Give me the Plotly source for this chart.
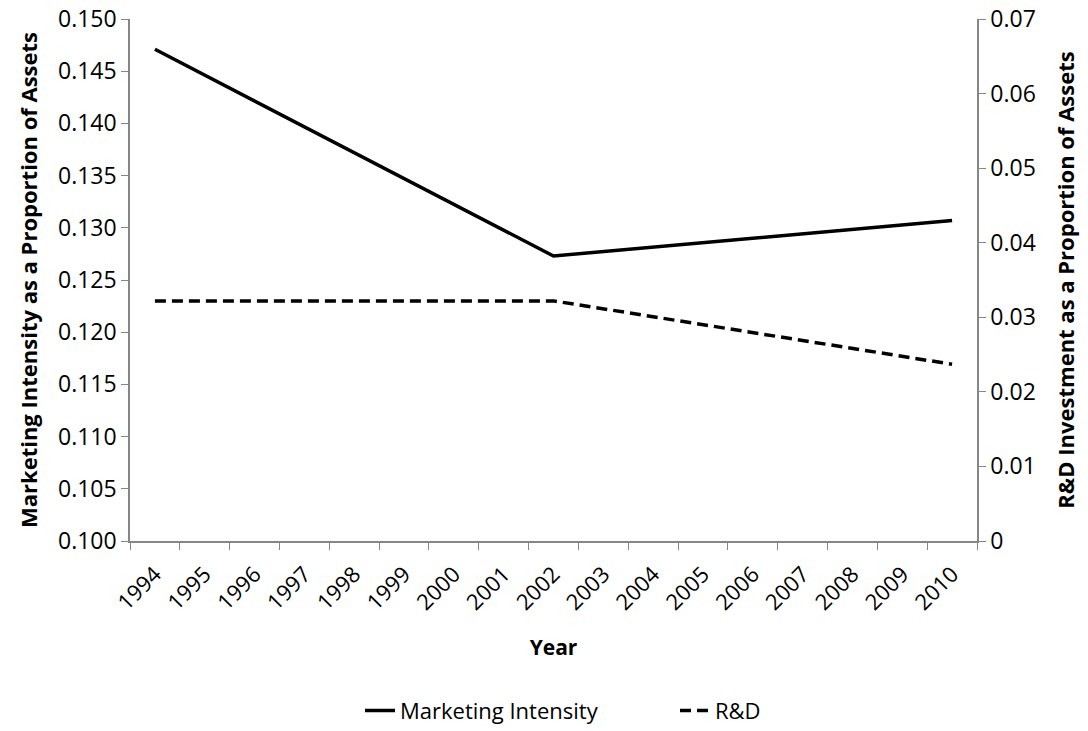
import plotly.graph_objects as go

years = [str(y) for y in range(1994, 2011)]
point_years = ["1994", "2002", "2010"]
marketing = [0.1471, 0.1273, 0.1307]
rnd = [0.0322, 0.0322, 0.0237]

FONT = "Open Sans"
AXIS_COLOR = "#868686"

fig = go.Figure()
fig.add_trace(go.Scatter(
    x=point_years, y=marketing, name="Marketing Intensity", mode="lines",
    line=dict(color="black", width=3.5), yaxis="y"))
fig.add_trace(go.Scatter(
    x=point_years, y=rnd, name="R&D", mode="lines",
    line=dict(color="black", width=3.5, dash="11px,6px"), yaxis="y2"))

fig.update_layout(
    width=1088, height=731,
    margin=dict(l=130, r=111, t=19, b=190, autoexpand=False),
    paper_bgcolor="white", plot_bgcolor="white",
    font=dict(family=FONT, color="black", size=22),
    showlegend=True,
    legend=dict(orientation="h", x=(360 - 130) / 847, xanchor="left",
                y=-0.325, yanchor="middle",
                font=dict(size=22), tracegroupgap=0,
                entrywidth=270, entrywidthmode="pixels"),
    xaxis=dict(
        type="category", categoryorder="array", categoryarray=years,
        range=[-0.5, 16.5], tickson="boundaries", automargin=False,
        ticks="outside", ticklen=7, tickcolor=AXIS_COLOR,
        showline=True, linecolor=AXIS_COLOR, linewidth=1.5,
        showgrid=False, zeroline=False, tickangle=-45,
        tickfont=dict(size=22), ticklabelstandoff=10,
        title=dict(text="<b>Year</b>", font=dict(size=21), standoff=26),
    ),
    yaxis=dict(
        range=[0.1, 0.15], dtick=0.005, tick0=0.1, tickformat=".3f",
        ticks="outside", ticklen=7, tickcolor=AXIS_COLOR, automargin=False,
        showline=True, linecolor=AXIS_COLOR, linewidth=1.5,
        showgrid=False, zeroline=False, tickfont=dict(size=23),
        title=dict(text="<b>Marketing Intensity as a Proportion of Assets</b>",
                   font=dict(size=22), standoff=14),
    ),
    yaxis2=dict(
        overlaying="y", side="right", anchor="x", automargin=False,
        range=[0, 0.07], dtick=0.01, tick0=0,
        ticks="outside", ticklen=7, tickcolor=AXIS_COLOR,
        showline=True, linecolor=AXIS_COLOR, linewidth=1.5,
        showgrid=False, zeroline=False, tickfont=dict(size=23),
        title=dict(text="<b>R&D Investment as a Proportion of Assets</b>",
                   font=dict(size=22), standoff=24),
    ),
)

fig.write_html("out.html")
